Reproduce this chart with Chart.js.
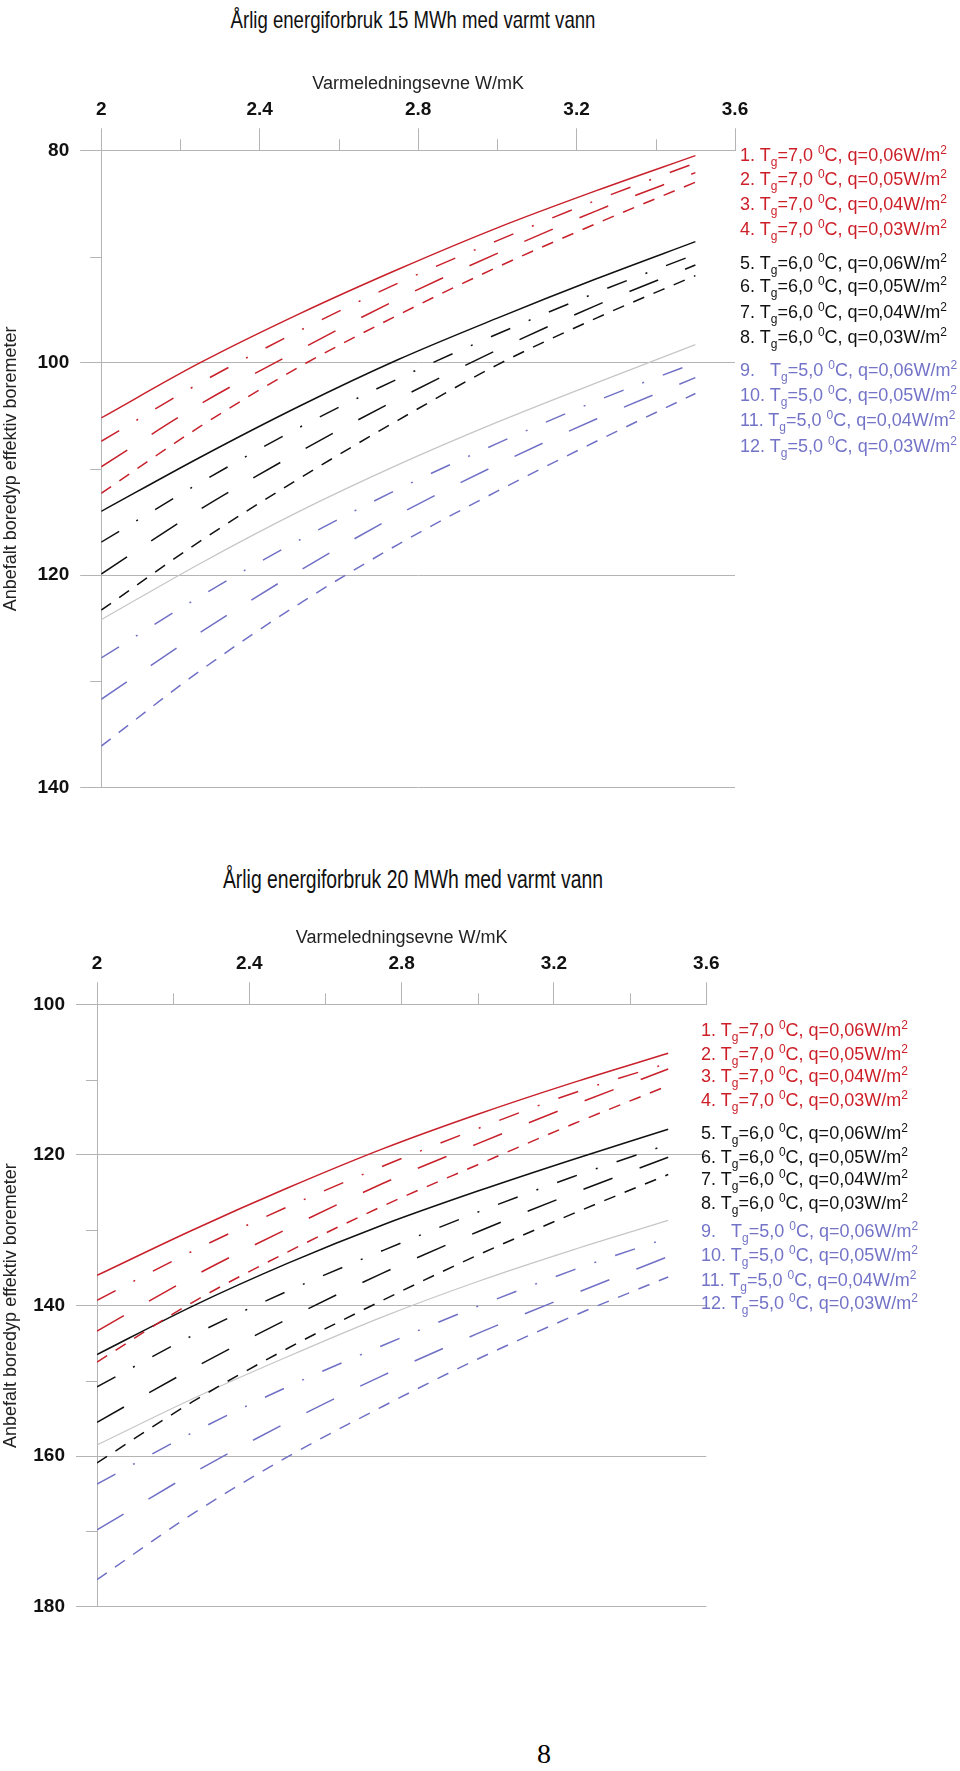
<!DOCTYPE html>
<html>
<head>
<meta charset="utf-8">
<script src="https://cdn.jsdelivr.net/npm/chart.js@4.4.1/dist/chart.umd.min.js"></script>
<style>
  body { margin: 0; background: #fff; width: 960px; height: 1771px; position: relative; overflow: hidden;
         font-family: "Liberation Sans", Arial, sans-serif; }
  .title { position: absolute; left: 0; width: 826px; text-align: center; color: #111;
           font-family: "Liberation Sans", Arial, sans-serif; transform: scaleX(0.775); }
  canvas { position: absolute; left: 0; }
  .legend { position: absolute; font-size: 18px; white-space: nowrap; }
  .legend div { position: absolute; left: 0; height: 22px; line-height: 22px; margin-top: -11px; }
  .legend sub, .legend sup { font-size: 12px; line-height: 0; }
  .pageno { position: absolute; left: 537px; top: 1738px; font-family: "Liberation Serif", "DejaVu Serif", serif; font-size: 28px; }
</style>
</head>
<body>
<div class="title" style="top:6px;font-size:24px">Årlig energiforbruk 15 MWh med varmt vann</div>
<canvas id="chart15" width="960" height="760" style="top:60px"></canvas>
<div class="legend" id="legend15" style="left:740px;top:0"></div>

<div class="title" style="top:865px;font-size:25px">Årlig energiforbruk 20 MWh med varmt vann</div>
<canvas id="chart20" width="960" height="760" style="top:914px"></canvas>
<div class="legend" id="legend20" style="left:701px;top:0"></div>

<div class="pageno">8</div>

<script>
// x: varmeledningsevne (W/mK)
const conductivity = [2.0, 2.25, 2.5, 2.75, 3.0, 3.25, 3.5];

// 15 MWh, anbefalt boredyp (m)
const d15_1 = [105.2, 100.0, 95.4, 91.2, 87.3, 83.8, 80.5];
const d15_2 = [107.4, 101.9, 97.0, 92.5, 88.5, 84.7, 81.2];
const d15_3 = [109.8, 103.9, 98.8, 94.0, 89.7, 85.7, 82.1];
const d15_4 = [112.3, 106.0, 100.4, 95.5, 91.0, 86.9, 83.0];
const d15_5 = [114.0, 108.9, 104.1, 99.7, 95.8, 92.1, 88.6];
const d15_6 = [116.9, 111.3, 106.1, 101.5, 97.3, 93.4, 89.8];
const d15_7 = [119.9, 113.8, 108.4, 103.4, 98.8, 94.6, 90.8];
const d15_8 = [123.3, 116.8, 110.9, 105.4, 100.2, 95.8, 91.8];
const d15_9 = [124.2, 118.9, 114.0, 109.6, 105.6, 101.9, 98.3];
const d15_10 = [127.8, 122.0, 116.7, 111.9, 107.6, 103.6, 100.0];
const d15_11 = [131.7, 125.4, 119.6, 114.3, 109.6, 105.3, 101.4];
const d15_12 = [136.1, 129.0, 122.7, 117.1, 112.1, 107.4, 102.9];

// 20 MWh
const d20_1 = [136.0, 130.0, 124.4, 119.2, 114.6, 110.4, 106.5];
const d20_2 = [139.3, 132.8, 126.9, 121.5, 116.5, 111.8, 107.8];
const d20_3 = [143.4, 136.2, 129.8, 123.8, 118.5, 113.4, 108.6];
const d20_4 = [147.5, 139.6, 132.9, 126.8, 121.3, 115.9, 110.8];
const d20_5 = [146.5, 140.1, 134.4, 129.3, 124.8, 120.6, 116.6];
const d20_6 = [150.8, 144.0, 138.1, 132.7, 127.6, 122.9, 118.6];
const d20_7 = [155.5, 148.4, 141.8, 135.7, 130.2, 125.1, 120.3];
const d20_8 = [160.9, 152.8, 145.7, 139.3, 133.3, 127.8, 122.6];
const d20_9 = [158.5, 152.4, 146.8, 141.5, 136.8, 132.6, 128.7];
const d20_10 = [163.7, 156.9, 150.8, 145.3, 140.1, 135.3, 131.0];
const d20_11 = [169.8, 162.3, 155.5, 149.3, 143.7, 138.5, 133.5];
const d20_12 = [176.4, 167.7, 160.1, 153.4, 147.1, 141.4, 136.2];

// legend texts
const groundTemp = ["7,0", "7,0", "7,0", "7,0", "6,0", "6,0", "6,0", "6,0", "5,0", "5,0", "5,0", "5,0"];
const heatFlow = ["0,06", "0,05", "0,04", "0,03", "0,06", "0,05", "0,04", "0,03", "0,06", "0,05", "0,04", "0,03"];

// ticks
const xTicks = [2, 2.4, 2.8, 3.2, 3.6];
const xMinor = [2.2, 2.6, 3.0, 3.4];
const yTicks15 = [80, 100, 120, 140];
const yMinor15 = [90, 110, 130];
const yTicks20 = [100, 120, 140, 160, 180];
const yMinor20 = [110, 130, 150, 170];

const series15 = [d15_1, d15_2, d15_3, d15_4, d15_5, d15_6, d15_7, d15_8, d15_9, d15_10, d15_11, d15_12];
const series20 = [d20_1, d20_2, d20_3, d20_4, d20_5, d20_6, d20_7, d20_8, d20_9, d20_10, d20_11, d20_12];

// styles
const RED = "#c8212b", BLACK = "#111111", GRAY = "#c6c6c6", BLUE = "#7070c6";
const lineColors = [RED, RED, RED, RED, BLACK, BLACK, BLACK, BLACK, GRAY, BLUE, BLUE, BLUE];
const textColors = ["#cc1f28", "#cc1f28", "#cc1f28", "#cc1f28", "#111", "#111", "#111", "#111", "#7373c8", "#7373c8", "#7373c8", "#7373c8"];
const dashes = [[], [21, 20, 2, 20], [31, 29], [12, 10]];
const GRID = "#b4b4b4";
const SANS = "'Liberation Sans', Arial, sans-serif";

const minorTicks = {
    id: "minorTicks",
    afterDraw(chart, args, opts) {
        const { ctx, chartArea, scales } = chart;
        ctx.save();
        ctx.strokeStyle = GRID;
        ctx.lineWidth = 1;
        ctx.beginPath();
        opts.x.forEach(v => {
            const px = Math.round(scales.x.getPixelForValue(v)) + 0.5;
            ctx.moveTo(px, chartArea.top);
            ctx.lineTo(px, chartArea.top - 11);
        });
        opts.y.forEach(v => {
            const py = Math.round(scales.y.getPixelForValue(v)) + 0.5;
            ctx.moveTo(chartArea.left, py);
            ctx.lineTo(chartArea.left - 11, py);
        });
        ctx.stroke();
        ctx.restore();
    }
};

function makeChart(id, series, yTicks, yMinor, yAxisWidth, padRight, padBottom) {
    const datasets = series.map((vals, i) => ({
        label: (i + 1) + ". Tg=" + groundTemp[i] + " 0C, q=" + heatFlow[i] + "W/m2",
        data: vals.map((v, j) => ({ x: conductivity[j], y: v })),
        borderColor: lineColors[i],
        borderWidth: i === 8 ? 1.2 : 1.5,
        borderDash: i === 8 ? [] : dashes[i % 4],
        pointRadius: 0,
        cubicInterpolationMode: "monotone",
        fill: false
    }));

    return new Chart(document.getElementById(id).getContext("2d"), {
        type: "line",
        data: { datasets: datasets },
        options: {
            responsive: false,
            animation: false,
            devicePixelRatio: 1,
            layout: { padding: { left: 0, top: 0, right: padRight, bottom: padBottom } },
            plugins: {
                legend: { display: false },
                tooltip: { enabled: false },
                minorTicks: { x: xMinor, y: yMinor }
            },
            scales: {
                x: {
                    type: "linear",
                    position: "top",
                    min: xTicks[0],
                    max: xTicks[xTicks.length - 1],
                    afterBuildTicks: s => { s.ticks = xTicks.map(v => ({ value: v })); },
                    afterFit: s => { s.height = 90.3; },
                    ticks: {
                        padding: 7,
                        color: "#111",
                        font: { family: SANS, size: 19, weight: "bold" },
                        callback: v => String(v)
                    },
                    grid: { drawOnChartArea: false, tickLength: 22, color: GRID },
                    border: { display: true, color: GRID },
                    title: {
                        display: true,
                        text: "Varmeledningsevne W/mK",
                        color: "#222",
                        font: { family: SANS, size: 18 },
                        padding: { top: 13, bottom: 0 }
                    }
                },
                y: {
                    type: "linear",
                    reverse: true,
                    min: yTicks[0],
                    max: yTicks[yTicks.length - 1],
                    afterBuildTicks: s => { s.ticks = yTicks.map(v => ({ value: v })); },
                    afterFit: s => { s.width = yAxisWidth; },
                    ticks: {
                        padding: 11,
                        color: "#111",
                        font: { family: SANS, size: 19, weight: "bold" }
                    },
                    grid: { color: GRID, tickLength: 21 },
                    border: { display: true, color: GRID },
                    title: {
                        display: true,
                        text: "Anbefalt boredyp effektiv boremeter",
                        color: "#222",
                        font: { family: SANS, size: 18 },
                        padding: { top: 0, bottom: 0 }
                    }
                }
            }
        },
        plugins: [minorTicks]
    });
}

function makeLegend(id, rows) {
    const box = document.getElementById(id);
    rows.forEach((top, i) => {
        const d = document.createElement("div");
        d.style.top = top + "px";
        d.style.color = textColors[i];
        const num = (i + 1) + "." + (i === 8 ? "&nbsp;&nbsp;&nbsp;" : " ");
        d.innerHTML = num + "T<sub>g</sub>=" + groundTemp[i] + " <sup>0</sup>C, q=" + heatFlow[i] + "W/m<sup>2</sup>";
        box.appendChild(d);
    });
}

makeChart("chart15", series15, yTicks15, yMinor15, 101.2, 225, 32.5);
makeChart("chart20", series20, yTicks20, yMinor20, 97, 253.7, 67.2);

makeLegend("legend15", [154.7, 178.5, 204.4, 229.3, 263.2, 285.7, 311.7, 336.6, 370.4, 395.3, 420.1, 446.1]);
makeLegend("legend20", [1030, 1053.8, 1076.4, 1100, 1132.8, 1156.5, 1179, 1202.8, 1231, 1254.8, 1279.6, 1303.4]);
</script>
</body>
</html>
